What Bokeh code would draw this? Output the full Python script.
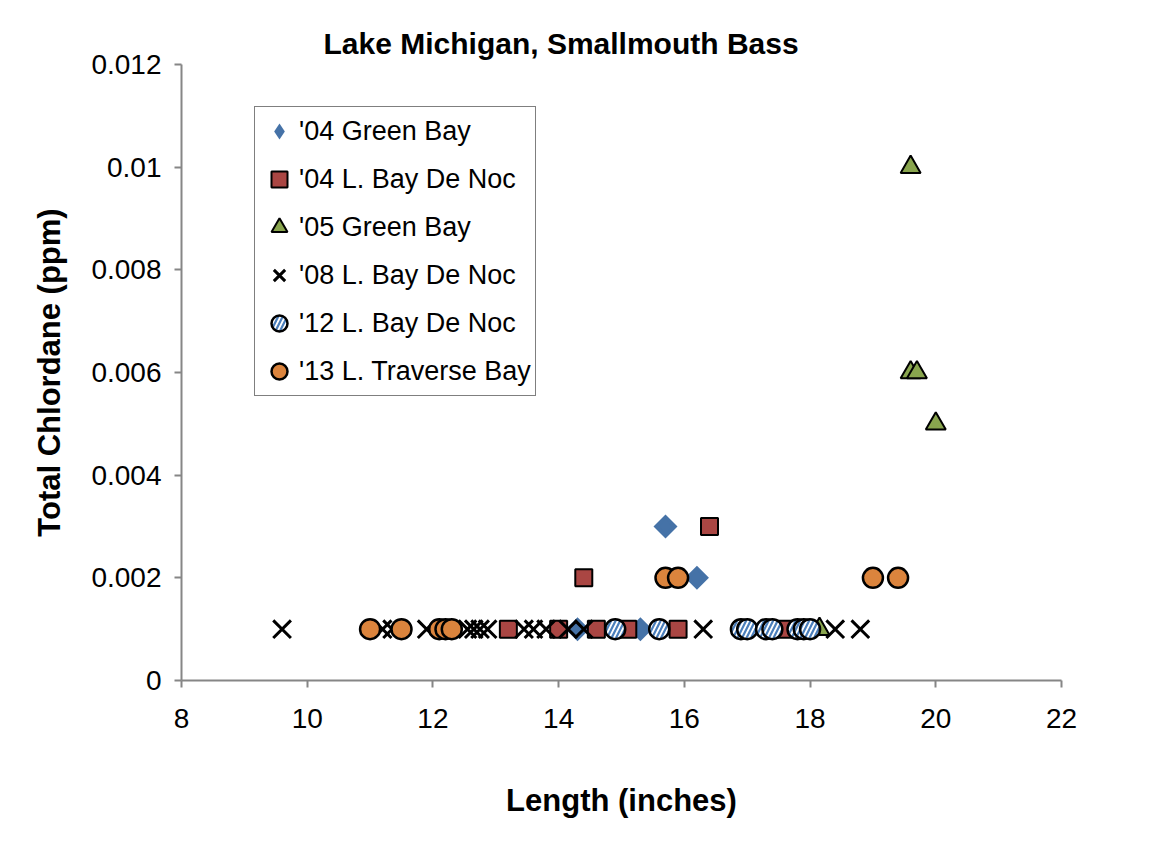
from bokeh.plotting import figure
from bokeh.models import ColumnDataSource, Legend, LegendItem, FixedTicker
from bokeh.embed import file_html
from bokeh.resources import INLINE
import math

# ---- data ----
gb04_len = [15.7, 16.2, 14.3, 15.3]
gb04_chl = [0.003, 0.002, 0.001, 0.001]

bdn04_len = [14.4, 16.4, 13.2, 14.0, 14.6, 15.1, 15.9, 17.6]
bdn04_chl = [0.002, 0.003, 0.001, 0.001, 0.001, 0.001, 0.001, 0.001]

gb05_len = [19.6, 19.6, 19.7, 20.0, 18.15]
gb05_chl = [0.010, 0.006, 0.006, 0.005, 0.001]

bdn08_len = [9.6, 11.2, 11.35, 11.9, 12.55, 12.65, 12.75, 12.87, 13.45, 13.6, 13.8,
             14.15, 14.4, 16.3, 18.4, 18.8]
bdn08_chl = [0.001] * 16

bdn12_len = [14.9, 15.6, 16.9, 17.0, 17.3, 17.4, 17.8, 17.9, 18.0]
bdn12_chl = [0.001] * 9

ltb13_len = [11.0, 11.5, 12.1, 12.2, 12.3, 15.7, 15.9, 19.0, 19.4]
ltb13_chl = [0.001, 0.001, 0.001, 0.001, 0.001, 0.002, 0.002, 0.002, 0.002]

x_ticks = [8, 10, 12, 14, 16, 18, 20, 22]
y_ticks = [0, 0.002, 0.004, 0.006, 0.008, 0.01, 0.012]
y_tick_labels = ["0", "0.002", "0.004", "0.006", "0.008", "0.01", "0.012"]

FONT = "Liberation Sans"
AXIS_GRAY = "#868686"
BLUE = "#4572A7"
RED = "#AA4643"
GREEN = "#89A54E"
ORANGE = "#DB843D"
STRIPE = "#4A7EBB"

p = figure(width=1140, height=830, output_backend="svg", toolbar_location=None,
           x_range=(8, 22), y_range=(0, 0.012),
           min_border_left=181, min_border_right=79, min_border_top=64,
           min_border_bottom=150)
p.background_fill_color = "white"
p.border_fill_color = "white"
p.outline_line_color = None
p.xgrid.visible = False
p.ygrid.visible = False

p.title.text = "Lake Michigan, Smallmouth Bass"
p.title.align = "left"
p.title.offset = 142
p.title.text_font = FONT
p.title.text_font_size = "30px"
p.title.text_font_style = "bold"
p.title.text_color = "black"

for ax in (p.xaxis[0], p.yaxis[0]):
    ax.axis_line_color = AXIS_GRAY
    ax.axis_line_width = 2
    ax.major_tick_line_color = AXIS_GRAY
    ax.major_tick_line_width = 2
    ax.major_tick_out = 7
    ax.major_tick_in = 0
    ax.minor_tick_line_color = None
    ax.major_label_text_font = FONT
    ax.major_label_text_font_size = "28px"
    ax.major_label_text_color = "black"
    ax.axis_label_text_font = FONT
    ax.axis_label_text_font_size = "31px"
    ax.axis_label_text_font_style = "bold"
    ax.axis_label_text_color = "black"

p.xaxis.ticker = FixedTicker(ticks=x_ticks)
p.yaxis.ticker = FixedTicker(ticks=y_ticks)
p.yaxis.major_label_overrides = {t: l for t, l in zip(y_ticks, y_tick_labels)}
p.xaxis.axis_label = "Length (inches)"
p.yaxis.axis_label = "Total Chlordane (ppm)"
p.xaxis.major_label_standoff = 21
p.yaxis.major_label_standoff = 13
p.xaxis.axis_label_standoff = 52
p.yaxis.axis_label_standoff = 21

r1 = p.scatter(gb04_len, gb04_chl, marker="square", size=17, angle=math.pi / 4,
               fill_color=BLUE, line_color=None)
# same points drawn as Bokeh's diamond (fully hidden inside the rotated squares);
# used only as the legend key, since legend markers are drawn unrotated
r1_key = p.scatter(gb04_len, gb04_chl, marker="diamond", size=17,
                   fill_color=BLUE, line_color=None)
r2 = p.scatter(bdn04_len, bdn04_chl, marker="square", size=17,
               fill_color=RED, line_color="black", line_width=2)
r3 = p.scatter(gb05_len, gb05_chl, marker="triangle", size=20,
               fill_color=GREEN, line_color="black", line_width=2)
r4 = p.scatter(bdn08_len, bdn08_chl, marker="x", size=25,
               line_color="black", line_width=3)
r5 = p.scatter(bdn12_len, bdn12_chl, marker="circle", size=20,
               fill_color="white", line_color="black", line_width=2.5,
               hatch_pattern="/", hatch_color=STRIPE, hatch_scale=9, hatch_weight=2.2)
r6 = p.scatter(ltb13_len, ltb13_chl, marker="circle", size=20,
               fill_color=ORANGE, line_color="black", line_width=2.5)

legend = Legend(items=[
    LegendItem(label="'04 Green Bay", renderers=[r1_key]),
    LegendItem(label="'04 L. Bay De Noc", renderers=[r2]),
    LegendItem(label="'05 Green Bay", renderers=[r3]),
    LegendItem(label="'08 L. Bay De Noc", renderers=[r4]),
    LegendItem(label="'12 L. Bay De Noc", renderers=[r5]),
    LegendItem(label="'13 L. Traverse Bay", renderers=[r6]),
], location=(73, 284))
legend.glyph_width = 40
legend.glyph_height = 40
legend.label_height = 40
legend.spacing = 8
legend.padding = 4
legend.margin = 0
legend.label_standoff = 0
legend.label_text_font = FONT
legend.label_text_font_size = "27px"
legend.label_text_color = "black"
legend.border_line_color = "black"
legend.border_line_width = 1.5
legend.background_fill_color = "white"
legend.background_fill_alpha = 1
p.add_layout(legend)

open("out.html", "w").write(file_html(p, INLINE))
